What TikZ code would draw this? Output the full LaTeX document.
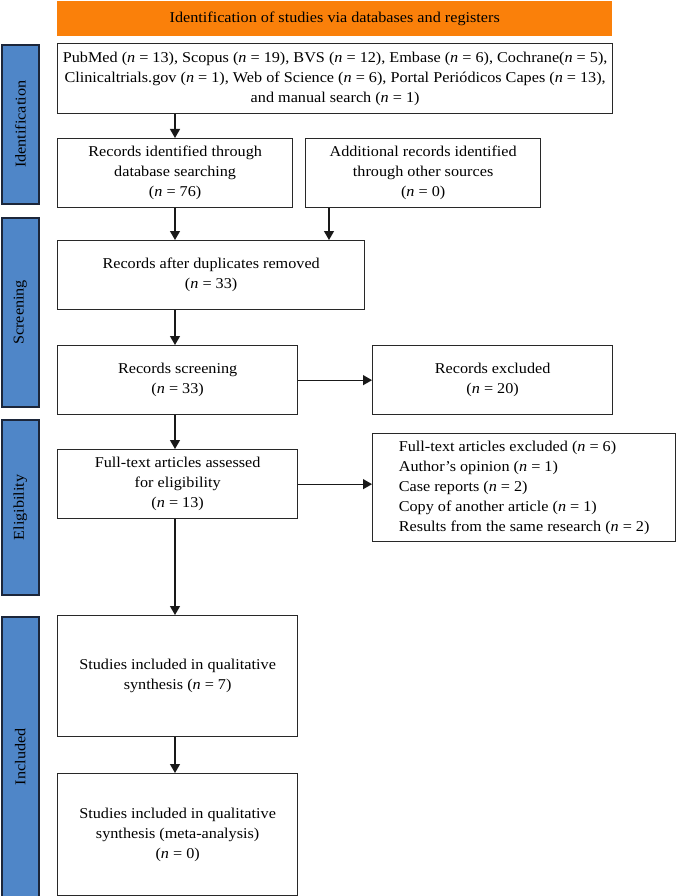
\documentclass[tikz,border=0pt]{standalone}
\usepackage{fontspec}
\setmainfont{Liberation Serif}[FakeStretch=1.08]
\usetikzlibrary{arrows.meta,calc}
\definecolor{orangebar}{RGB}{250,128,10}
\definecolor{bluebar}{RGB}{79,134,200}
\definecolor{navy}{RGB}{28,38,58}
\definecolor{boxline}{RGB}{40,40,40}
\newcommand{\nv}{\textit{n}}
\begin{document}
\begin{tikzpicture}[x=1pt,y=-1pt,
  every node/.style={font=\fontsize{15}{20}\selectfont, inner sep=0pt},
  box/.style={draw=boxline, line width=1.3pt, fill=white, align=center, anchor=north west},
  stage/.style={draw=navy, fill=bluebar, line width=1.6pt, anchor=north west, minimum width=37pt},
  stagelabel/.style={rotate=90},
  arr/.style={draw=black!90, line width=1.2pt, -{Triangle[width=10pt,length=9pt]}}
]
\useasboundingbox (0,0) rectangle (676,896);

% header
\node[fill=orangebar, anchor=north west, minimum width=555pt, minimum height=35pt] (hdr) at (57,1)
  {Identification of studies via databases and registers};

% stage bars
\node[stage, minimum height=159pt] (s1) at (1,44) {};
\node[stagelabel] (s1l) at (s1.center) {Identification};
\node[stage, minimum height=189pt] (s2) at (1,217) {};
\node[stagelabel] (s2l) at (s2.center) {Screening};
\node[stage, minimum height=175pt] (s3) at (1,419) {};
\node[stagelabel] (s3l) at (s3.center) {Eligibility};
\node[stage, minimum height=280pt] (s4) at (1,616) {};
\node[stagelabel] (s4l) at (s4.center) {Included};

% boxes
\node[box, minimum width=555pt, minimum height=70pt] (src) at (57,43)
  {PubMed (\nv\ = 13), Scopus (\nv\ = 19), BVS (\nv\ = 12), Embase (\nv\ = 6), Cochrane(\nv\ = 5),\\
   Clinicaltrials.gov (\nv\ = 1), Web of Science (\nv\ = 6), Portal Periódicos Capes (\nv\ = 13),\\
   and manual search (\nv\ = 1)};
\node[box, minimum width=235pt, minimum height=69pt] (recid) at (57,138)
  {Records identified through\\database searching\\(\nv\ = 76)};
\node[box, minimum width=235pt, minimum height=69pt] (add) at (305,138)
  {Additional records identified\\through other sources\\(\nv\ = 0)};
\node[box, minimum width=307pt, minimum height=69pt] (dup) at (57,240)
  {Records after duplicates removed\\(\nv\ = 33)};
\node[box, minimum width=240pt, minimum height=69pt] (scr) at (57,345)
  {Records screening\\(\nv\ = 33)};
\node[box, minimum width=240pt, minimum height=69pt] (exc) at (372,345)
  {Records excluded\\(\nv\ = 20)};
\node[box, minimum width=240pt, minimum height=69pt] (ft) at (57,449)
  {Full-text articles assessed\\for eligibility\\(\nv\ = 13)};
\node[box, align=left, minimum width=303pt, minimum height=108pt] (exc2) at (372,433)
  {Full-text articles excluded (\nv\ = 6)\\Author’s opinion (\nv\ = 1)\\Case reports (\nv\ = 2)\\Copy of another article (\nv\ = 1)\\Results from the same research (\nv\ = 2)};
\node[box, minimum width=240pt, minimum height=121pt] (inc1) at (57,615)
  {Studies included in qualitative\\synthesis (\nv\ = 7)};
\node[box, minimum width=240pt, minimum height=122pt] (inc2) at (57,773)
  {Studies included in qualitative\\synthesis (meta-analysis)\\(\nv\ = 0)};

% connectors
\coordinate (colx) at (175,0);
\coordinate (addx) at (329,0);
\draw[arr] (src.south -| colx) -- (recid.north -| colx);
\draw[arr] (recid.south -| colx) -- (dup.north -| colx);
\draw[arr] (add.south -| addx) -- (dup.north -| addx);
\draw[arr] (dup.south -| colx) -- (scr.north -| colx);
\draw[arr] (scr.east) -- (scr.east -| exc.west);
\draw[arr] (scr.south -| colx) -- (ft.north -| colx);
\draw[arr] (ft.east) -- (ft.east -| exc2.west);
\draw[arr] (ft.south -| colx) -- (inc1.north -| colx);
\draw[arr] (inc1.south -| colx) -- (inc2.north -| colx);
\end{tikzpicture}
\end{document}
